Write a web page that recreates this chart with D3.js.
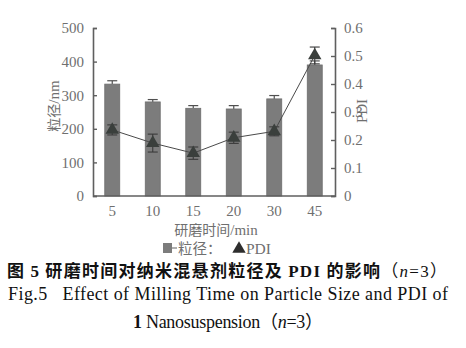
<!DOCTYPE html>
<html>
<head>
<meta charset="utf-8">
<script src="https://cdn.jsdelivr.net/npm/d3@7"></script>
<style>
  html, body { margin: 0; padding: 0; background: #fff; }
  svg { display: block; }
</style>
</head>
<body>
<svg id="chart" width="466" height="348"></svg>
<script>
// Milling time groups (min)
const times = ["5", "10", "15", "20", "30", "45"];
// Particle size (nm), mean and SD
const sizeMean = [333, 280, 261, 259, 289, 390];
const sizeErr = [10, 7, 8, 10, 10, 12];
// PDI, mean and SD
const pdiMean = [0.236, 0.189, 0.153, 0.208, 0.231, 0.502];
const pdiErr = [0.018, 0.032, 0.022, 0.020, 0.016, 0.030];
// Axis ticks
const sizeTicks = [0, 100, 200, 300, 400, 500];
const pdiTicks = [0, 0.1, 0.2, 0.3, 0.4, 0.5, 0.6];

const svg = d3.select("#chart");
const serif = "'Liberation Serif', 'Times New Roman', serif";
const cjk = "'Noto Sans CJK SC', sans-serif";
const axisColor = "#5f5f5f";
const textGray = "#6f6f6f";

const plotLeft = 93, plotRight = 335, plotTop = 28, plotBottom = 196;

const x = d3.scaleBand().domain(times).range([92, 335])
  .paddingInner(0.63).paddingOuter(0.315);
const ySize = d3.scaleLinear().domain([0, 500]).range([plotBottom, plotTop]);
const yPdi = d3.scaleLinear().domain([0, 0.6]).range([plotBottom, plotTop]);

const rows = times.map((t, i) => ({
  t, size: sizeMean[i], sErr: sizeErr[i], pdi: pdiMean[i], pErr: pdiErr[i]
}));

// Size error bars (upper whisker shows above each bar)
const sErrG = svg.append("g").attr("stroke", "#505050").attr("stroke-width", 1.2);
rows.forEach(d => {
  const cx = x(d.t) + x.bandwidth() / 2;
  sErrG.append("line").attr("x1", cx).attr("x2", cx)
    .attr("y1", ySize(d.size)).attr("y2", ySize(d.size + d.sErr));
  sErrG.append("line").attr("x1", cx - 5).attr("x2", cx + 5)
    .attr("y1", ySize(d.size + d.sErr)).attr("y2", ySize(d.size + d.sErr));
});

// Bars
svg.append("g").selectAll("rect").data(rows).join("rect")
  .attr("x", d => x(d.t))
  .attr("width", x.bandwidth())
  .attr("y", d => ySize(d.size))
  .attr("height", d => plotBottom - ySize(d.size))
  .attr("fill", "#7c7c7c")
  .attr("stroke", "#6e6e6e")
  .attr("stroke-width", 0.8);

// Axes
const axL = d3.axisLeft(ySize).tickValues(sizeTicks).tickSizeInner(-4).tickSizeOuter(-4).tickPadding(9);
const axR = d3.axisRight(yPdi).tickValues(pdiTicks).tickSizeInner(-4).tickSizeOuter(-4).tickPadding(9)
  .tickFormat(d => d === 0 ? "0" : d3.format(".1f")(d));
const axB = d3.axisBottom(x).tickSize(0).tickPadding(9);

function styleAxis(g) {
  g.select(".domain").attr("stroke", axisColor).attr("stroke-width", 1.6);
  g.selectAll(".tick line").attr("stroke", axisColor).attr("stroke-width", 1.4);
  g.selectAll(".tick text").attr("fill", textGray)
    .style("font-family", serif).style("font-size", "15px");
}

svg.append("g").attr("transform", `translate(${plotLeft},0)`).call(axL).call(styleAxis);
svg.append("g").attr("transform", `translate(${plotRight},0)`).call(axR).call(styleAxis);
const gB = svg.append("g").attr("transform", `translate(0,${plotBottom})`).call(axB).call(styleAxis);
gB.select(".domain").attr("d", `M${plotLeft},0H${plotRight}`);

// PDI line
const cxOf = d => x(d.t) + x.bandwidth() / 2;
svg.append("path").datum(rows)
  .attr("fill", "none").attr("stroke", "#4a4a4a").attr("stroke-width", 1)
  .attr("d", d3.line().x(cxOf).y(d => yPdi(d.pdi)));

// PDI error bars
const pErrG = svg.append("g").attr("stroke", "#3a3a3a").attr("stroke-width", 1.1);
rows.forEach(d => {
  const cx = cxOf(d);
  const y1 = yPdi(d.pdi - d.pErr), y2 = yPdi(d.pdi + d.pErr);
  pErrG.append("line").attr("x1", cx).attr("x2", cx).attr("y1", y1).attr("y2", y2);
  pErrG.append("line").attr("x1", cx - 5).attr("x2", cx + 5).attr("y1", y1).attr("y2", y1);
  pErrG.append("line").attr("x1", cx - 5).attr("x2", cx + 5).attr("y1", y2).attr("y2", y2);
});

// PDI markers
const tri = d3.symbol(d3.symbolTriangle).size(78);
svg.append("g").selectAll("path").data(rows).join("path")
  .attr("transform", d => `translate(${cxOf(d)},${yPdi(d.pdi)})`)
  .attr("d", tri)
  .attr("fill", "#3a3f3c");

// Axis titles
svg.append("text")
  .attr("transform", "translate(59,106) rotate(-90)")
  .attr("text-anchor", "middle").attr("fill", textGray)
  .style("font-size", "14px")
  .call(t => {
    t.append("tspan").style("font-family", cjk).text("粒径");
    t.append("tspan").style("font-family", serif).style("font-size", "15px").text("/nm");
  });

svg.append("text")
  .attr("transform", "translate(367,111) rotate(-90)")
  .attr("text-anchor", "middle").attr("fill", textGray)
  .style("font-family", serif).style("font-size", "15px")
  .text("PDI");

svg.append("text")
  .attr("x", 216).attr("y", 234.5)
  .attr("text-anchor", "middle").attr("fill", textGray)
  .call(t => {
    t.append("tspan").style("font-family", cjk).style("font-size", "14px").text("研磨时间");
    t.append("tspan").style("font-family", serif).style("font-size", "15px").text("/min");
  });

// Legend
const lg = svg.append("g");
lg.append("rect").attr("x", 163).attr("y", 243).attr("width", 9).attr("height", 10).attr("fill", "#7c7c7c");
lg.append("line").attr("x1", 172).attr("x2", 177).attr("y1", 248).attr("y2", 248)
  .attr("stroke", "#7c7c7c").attr("stroke-width", 1.2);
lg.append("text").attr("x", 178).attr("y", 254).attr("fill", textGray)
  .style("font-family", cjk).style("font-size", "14.5px").text("粒径：");
lg.append("path").attr("transform", "translate(239,249)").attr("d", tri).attr("fill", "#2e2e2e");
lg.append("text").attr("x", 246).attr("y", 254).attr("fill", textGray)
  .style("font-family", serif).style("font-size", "15.5px").text("PDI");

// Caption
const c1 = svg.append("text").attr("x", 7).attr("y", 277)
  .attr("textLength", 440).attr("lengthAdjust", "spacing")
  .attr("fill", "#111").style("font-size", "17px");
c1.append("tspan").style("font-family", cjk).style("font-weight", "bold").text("图 ");
c1.append("tspan").style("font-family", serif).style("font-weight", "bold").text("5");
c1.append("tspan").style("font-family", cjk).style("font-weight", "bold").text("  研磨时间对纳米混悬剂粒径及 ");
c1.append("tspan").style("font-family", serif).style("font-weight", "bold").text("PDI");
c1.append("tspan").style("font-family", cjk).style("font-weight", "bold").text(" 的影响");
c1.append("tspan").style("font-family", cjk).text("（");
c1.append("tspan").style("font-family", serif).style("font-style", "italic").text("n");
c1.append("tspan").style("font-family", serif).text("=3");
c1.append("tspan").style("font-family", cjk).text("）");

svg.append("text").attr("x", 8).attr("y", 300)
  .attr("textLength", 440).attr("lengthAdjust", "spacing")
  .attr("fill", "#111").style("font-family", serif).style("font-size", "18px")
  .attr("xml:space", "preserve")
  .text("Fig.5   Effect of Milling Time on Particle Size and PDI of");

const c3 = svg.append("text").attr("x", 133).attr("y", 328)
  .attr("textLength", 190).attr("lengthAdjust", "spacing")
  .attr("fill", "#111").style("font-size", "18px");
c3.append("tspan").style("font-family", serif).style("font-weight", "bold").text("1");
c3.append("tspan").style("font-family", serif).text(" Nanosuspension");
c3.append("tspan").style("font-family", cjk).text("（");
c3.append("tspan").style("font-family", serif).style("font-style", "italic").text("n");
c3.append("tspan").style("font-family", serif).text("=3");
c3.append("tspan").style("font-family", cjk).text("）");
</script>
</body>
</html>
